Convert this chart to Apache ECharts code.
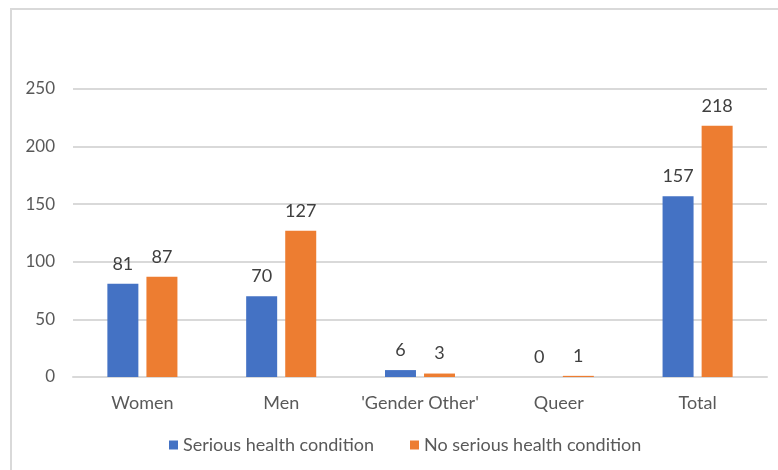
<!DOCTYPE html>
<html><head><meta charset="utf-8">
<script src="https://cdn.jsdelivr.net/npm/echarts@6/dist/echarts.min.js"></script>
<style>html,body{margin:0;padding:0;background:#fff}#c{width:778px;height:470px;position:relative}</style>
</head><body><div id="c"></div>
<script>
const categories = ["Women", "Men", "'Gender Other'", "Queer", "Total"];
const seriousValues = [81, 70, 6, 0, 157];
const noSeriousValues = [87, 127, 3, 1, 218];
const seriesNames = ["Serious health condition", "No serious health condition"];
const yTicks = { min: 0, max: 250, interval: 50 };

const font = "Lato, 'Open Sans', sans-serif";
const chart = echarts.init(document.getElementById('c'), null, {renderer: 'canvas'});
const labelStyle = { show: true, position: 'top', distance: 11, color: '#404040', fontSize: 18, fontFamily: font };
chart.setOption({
  animation: false,
  graphic: [{ type: 'rect', shape: { x: 11, y: 9, width: 800, height: 500 }, style: { fill: 'none', stroke: '#d9d9d9', lineWidth: 2 }, silent: true }],
  grid: { left: 73, right: 11, top: 89, bottom: 93 },
  legend: {
    bottom: 11, left: 164, itemWidth: 9, itemHeight: 9, itemGap: 36,
    icon: 'rect',
    textStyle: { color: '#595959', fontSize: 18, fontFamily: font },
    data: seriesNames
  },
  xAxis: {
    type: 'category', data: categories,
    axisLine: { lineStyle: { color: '#d9d9d9', width: 2 } },
    axisTick: { show: false },
    axisLabel: { interval: 0, color: '#595959', fontSize: 18, fontFamily: font, margin: 17 }
  },
  yAxis: {
    type: 'value', min: yTicks.min, max: yTicks.max, interval: yTicks.interval,
    axisLine: { show: false }, axisTick: { show: false },
    splitLine: { lineStyle: { color: '#d9d9d9', width: 2 } },
    axisLabel: { color: '#595959', fontSize: 17, fontFamily: font, margin: 18 }
  },
  series: [
    { name: seriesNames[0], type: 'bar', data: seriousValues, barWidth: 31, barGap: '26%',
      itemStyle: { color: '#4472c4' }, label: labelStyle },
    { name: seriesNames[1], type: 'bar', data: noSeriousValues, barWidth: 31,
      itemStyle: { color: '#ed7d31' }, label: labelStyle }
  ]
});
</script></body></html>
